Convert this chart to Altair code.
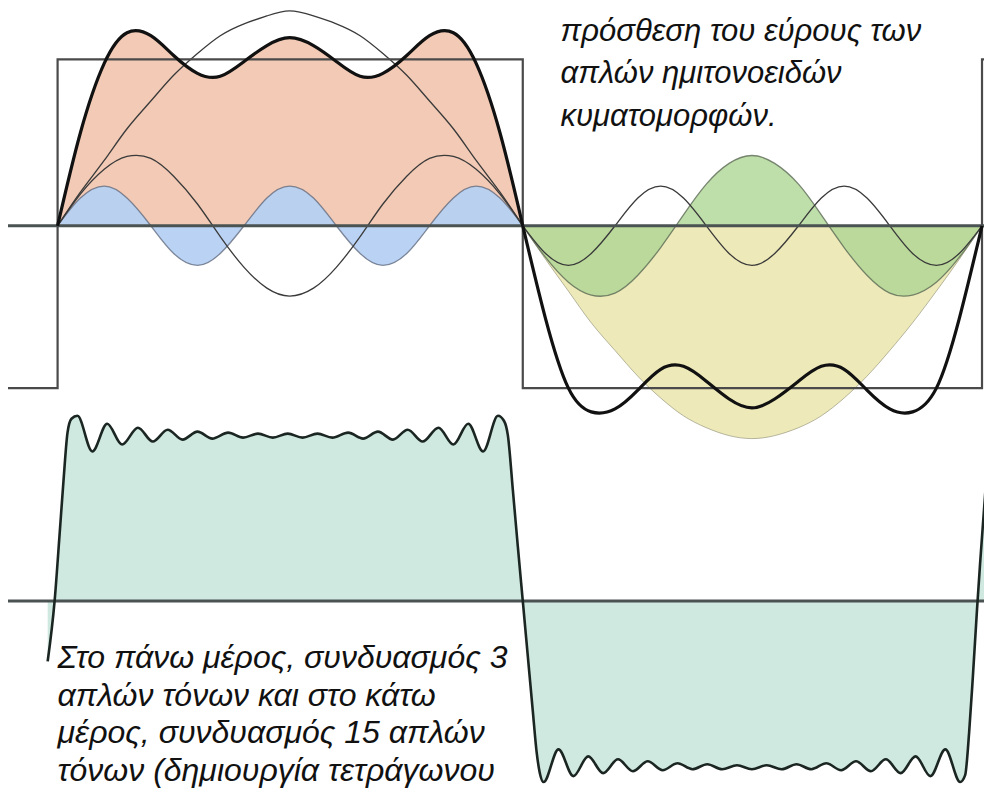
import altair as alt
import pandas as pd

# ---------------- data (pixel-like units, y grows downward) ----------------
# upper panel, left half-period
x_left = [58, 81, 105, 128, 152, 175, 199, 222, 246, 269, 292, 316, 339, 363, 386, 410, 433, 457, 480, 504, 527]
left_fund = [228, 194, 162, 130, 102, 76, 54, 36, 24, 16, 11, 16, 24, 36, 54, 76, 102, 130, 162, 194, 228]
left_h3 = [228, 196, 171, 158, 160, 178, 206, 239, 270, 291, 299, 291, 270, 239, 206, 178, 160, 158, 171, 196, 228]
left_h5 = [228, 200, 188, 200, 228, 256, 268, 256, 228, 200, 188, 200, 228, 256, 268, 256, 228, 200, 188, 200, 228]
left_sum = [228, 134, 64, 33, 36, 56, 74, 77, 62, 46, 38, 46, 62, 77, 74, 56, 36, 33, 64, 134, 228]

# upper panel, right half-period
x_right = [527, 550, 573, 596, 620, 643, 666, 689, 712, 735, 758, 781, 805, 828, 851, 874, 897, 920, 944, 967, 990]
right_fund = [228, 262, 294, 326, 354, 380, 402, 420, 432, 440, 443, 440, 432, 420, 402, 380, 354, 326, 294, 262, 228]
right_h3 = [228, 260, 285, 298, 296, 278, 250, 217, 186, 165, 157, 165, 186, 217, 250, 278, 296, 298, 285, 260, 228]
right_h5 = [228, 256, 268, 256, 228, 200, 188, 200, 228, 256, 268, 256, 228, 200, 188, 200, 228, 256, 268, 256, 228]
right_sum = [228, 322, 392, 416, 413, 394, 373, 370, 385, 403, 412, 403, 385, 370, 373, 394, 413, 416, 392, 322, 228]

# square wave outline
square_x = [0, 58, 58, 527, 527, 990, 990, 1000]
square_y = [392, 392, 60, 60, 392, 392, 60, 60]

# zero lines of the two panels
zero_upper = 228
zero_lower = 607

# lower panel: sum of 15 sines
bottom_x = [48, 55, 60, 64, 68, 72,
            78, 93, 108, 123, 139, 154, 169, 184, 199, 214, 230, 245, 260, 275, 290, 305,
            320, 335, 351, 366, 381, 396, 411, 426, 442, 457, 472, 487, 502,
            508, 512, 517, 522, 527, 532, 537, 541, 544,
            548, 563, 578, 593, 608, 623, 638, 653, 668, 683, 698, 713, 728, 743, 758,
            773, 788, 803, 818, 833, 848, 863, 878, 893, 908, 923, 938, 953, 968,
            973, 977, 981, 985, 988, 992, 996]
bottom_y = [668, 607, 540, 485, 437, 423,
            420, 456, 428, 449, 432, 446, 434, 444, 436, 443, 437, 442, 438, 442, 438, 442,
            438, 442, 437, 443, 436, 444, 434, 446, 432, 449, 428, 456, 420,
            425, 440, 495, 552, 607, 662, 717, 760, 780,
            790, 757, 784, 764, 781, 767, 779, 769, 778, 771, 777, 772, 777, 773, 777,
            773, 777, 772, 777, 771, 778, 769, 779, 767, 781, 764, 784, 757, 790,
            783, 740, 680, 615, 570, 515, 460]

top_text = ["πρόσθεση του εύρους των", "απλών ημιτονοειδών", "κυματομορφών."]
bottom_text = ["Στο πάνω μέρος, συνδυασμός 3", "απλών τόνων και στο κάτω",
               "μέρος, συνδυασμός 15 απλών", "τόνων (δημιουργία τετράγωνου"]

# ---------------- chart ----------------
XS = alt.Scale(domain=[8, 992], nice=False, zero=False)
YS = alt.Scale(domain=[8, 797], nice=False, zero=False, reverse=True)


def X(f="x"):
    return alt.X(f"{f}:Q", scale=XS, axis=None)


def Y(f="y"):
    return alt.Y(f"{f}:Q", scale=YS, axis=None)


left = pd.DataFrame({"x": x_left, "fund": left_fund, "h3": left_h3, "h5": left_h5, "sum": left_sum})
right = pd.DataFrame({"x": x_right, "fund": right_fund, "h3": right_h3, "h5": right_h5, "sum": right_sum})
square = pd.DataFrame({"x": square_x, "y": square_y, "i": list(range(len(square_x)))})
bottom = pd.DataFrame({"x": bottom_x, "y": bottom_y})

FILL_INTERP = "natural"
FONT = "Liberation Sans"


def area(df, col, color, opacity=1.0, zero=zero_upper, interp=FILL_INTERP):
    return alt.Chart(df).mark_area(color=color, opacity=opacity, interpolate=interp).encode(
        x=X(), y=Y(col), y2=alt.datum(zero))


def line(df, col, color, width, opacity=1.0, interp=FILL_INTERP):
    return alt.Chart(df).mark_line(color=color, strokeWidth=width, opacity=opacity,
                                   interpolate=interp).encode(x=X(), y=Y(col))


layers = [
    area(left, "sum", "#f2cab5"),
    area(left, "h5", "#b6d0f2", 0.95),
    line(left, "h5", "#5c6678", 1.3, 0.75),
    area(right, "fund", "#eee9b9"),
    line(right, "fund", "#8a8a70", 1.0, 0.6),
    area(right, "h3", "#acd592", 0.78),
    line(right, "h3", "#5b6a55", 1.3, 0.8),
    alt.Chart(bottom).mark_area(color="#cfe9e0", interpolate="monotone").encode(
        x=X(), y=Y(), y2=alt.datum(zero_lower)),
    line(left, "fund", "#3a3a3a", 1.3),
    line(left, "h3", "#3a3a3a", 1.3),
    line(right, "h5", "#3a3a3a", 1.3),
    alt.Chart(square).mark_line(color="#4a4a4a", strokeWidth=2.2).encode(
        x=X(), y=Y(), order="i:Q"),
    alt.Chart(pd.DataFrame({"y": [zero_upper, zero_lower]})).mark_rule(
        color="#4a5252", strokeWidth=3).encode(y=Y()),
    line(left, "sum", "#111111", 3.2),
    line(right, "sum", "#111111", 3.2),
    alt.Chart(bottom).mark_line(color="#1b2622", strokeWidth=2.6, interpolate="monotone").encode(
        x=X(), y=Y()),
    alt.Chart(pd.DataFrame({"a": [0]})).mark_text(
        text=top_text, font=FONT, fontSize=31, fontStyle="italic",
        align="left", baseline="alphabetic", lineHeight=42.5, color="#111111").encode(
        x=alt.datum(565), y=alt.datum(41)),
    alt.Chart(pd.DataFrame({"a": [0]})).mark_text(
        text=bottom_text, font=FONT, fontSize=32, fontStyle="italic",
        align="left", baseline="alphabetic", lineHeight=37.5, color="#111111").encode(
        x=alt.datum(58), y=alt.datum(675)),
]

chart = alt.layer(*layers).properties(
    width=976, height=781, padding=0, autosize=alt.AutoSizeParams(type="none"),
    background="white",
).configure_view(stroke=None)

chart.save("out.html", embed_options={"renderer": "svg", "actions": False})
